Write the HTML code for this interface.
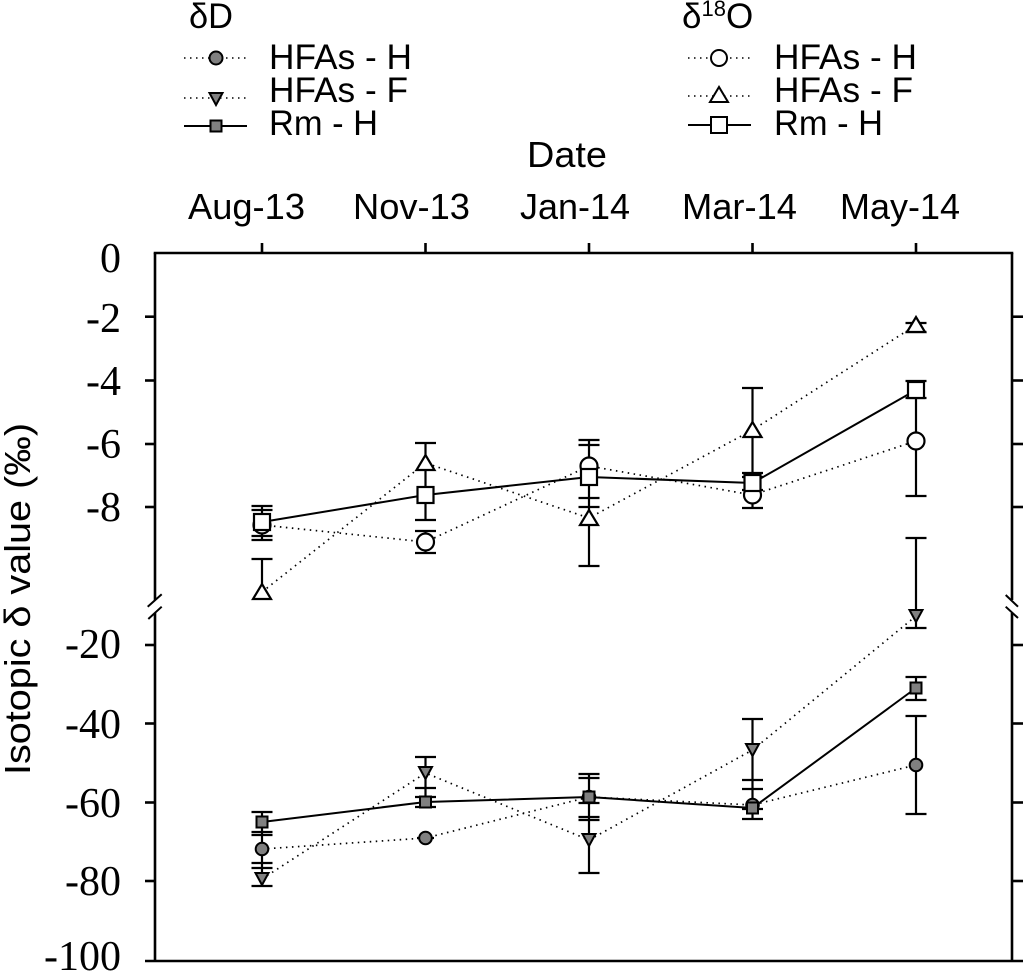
<!DOCTYPE html>
<html>
<head>
<meta charset="utf-8">
<style>
  html, body { margin: 0; padding: 0; background: #fff; }
  svg { display: block; }
  .sans { font-family: "Liberation Sans", "DejaVu Sans", sans-serif; }
  .serif { font-family: "Liberation Serif", "DejaVu Serif", serif; }
</style>
</head>
<body>
<svg xmlns="http://www.w3.org/2000/svg" width="1023" height="975" viewBox="0 0 1023 975">
  <rect x="0" y="0" width="1023" height="975" fill="#fff"/>

  <!-- Legend -->
  <g class="sans" font-size="35" fill="#000">
    <text x="189" y="28" textLength="44" lengthAdjust="spacingAndGlyphs">δD</text>
    <text x="269" y="69" textLength="143" lengthAdjust="spacingAndGlyphs">HFAs - H</text>
    <text x="269" y="102" textLength="139" lengthAdjust="spacingAndGlyphs">HFAs - F</text>
    <text x="269" y="135" textLength="109" lengthAdjust="spacingAndGlyphs">Rm - H</text>

    <text x="682" y="28">δ<tspan font-size="22" dy="-12">18</tspan><tspan dy="12">O</tspan></text>
    <text x="774" y="69" textLength="143" lengthAdjust="spacingAndGlyphs">HFAs - H</text>
    <text x="774" y="102" textLength="139" lengthAdjust="spacingAndGlyphs">HFAs - F</text>
    <text x="774" y="135" textLength="109" lengthAdjust="spacingAndGlyphs">Rm - H</text>
  </g>
  <g stroke="#000" fill="none">
    <line x1="184" y1="58" x2="247" y2="58" stroke-width="1.6" stroke-dasharray="1.5 4.5"/>
    <line x1="184" y1="98" x2="247" y2="98" stroke-width="1.6" stroke-dasharray="1.5 4.5"/>
    <line x1="184" y1="126" x2="247" y2="126" stroke-width="2"/>
    <line x1="688" y1="58" x2="751" y2="58" stroke-width="1.6" stroke-dasharray="1.5 4.5"/>
    <line x1="688" y1="96" x2="751" y2="96" stroke-width="1.6" stroke-dasharray="1.5 4.5"/>
    <line x1="688" y1="125" x2="751" y2="125" stroke-width="2"/>
  </g>
  <g stroke="#000" stroke-width="2">
    <circle cx="216" cy="58" r="6.5" fill="#808080"/>
    <polygon points="209.5,93 222.5,93 216,105" fill="#808080"/>
    <rect x="210.5" y="120.5" width="11" height="11" fill="#808080"/>
    <circle cx="719" cy="58" r="8" fill="#fff"/>
    <polygon points="710,102 728,102 719,87" fill="#fff"/>
    <rect x="711" y="117" width="16" height="16" fill="#fff"/>
  </g>

  <!-- Top axis title and labels -->
  <g class="sans" font-size="36" fill="#000">
    <text x="527" y="167" textLength="80" lengthAdjust="spacingAndGlyphs">Date</text>
    <text x="188" y="219" textLength="117" lengthAdjust="spacingAndGlyphs">Aug-13</text>
    <text x="353" y="219" textLength="117" lengthAdjust="spacingAndGlyphs">Nov-13</text>
    <text x="520" y="219" textLength="110" lengthAdjust="spacingAndGlyphs">Jan-14</text>
    <text x="682" y="219" textLength="115" lengthAdjust="spacingAndGlyphs">Mar-14</text>
    <text x="840" y="219" textLength="120" lengthAdjust="spacingAndGlyphs">May-14</text>
  </g>

  <!-- Y axis title -->
  <text class="sans" font-size="36" fill="#000" text-anchor="middle" transform="translate(30,599) rotate(-90)" textLength="352" lengthAdjust="spacingAndGlyphs">Isotopic δ value (‰)</text>

  <!-- Y tick labels -->
  <g class="serif" font-size="42" fill="#000" text-anchor="end">
    <text x="121" y="272">0</text>
    <text x="121" y="332">-2</text>
    <text x="121" y="395">-4</text>
    <text x="121" y="458">-6</text>
    <text x="121" y="521">-8</text>
    <text x="121" y="658">-20</text>
    <text x="121" y="738">-40</text>
    <text x="121" y="817">-60</text>
    <text x="121" y="895">-80</text>
    <text x="121" y="970">-100</text>
  </g>

  <!-- Frame -->
  <g stroke="#000" stroke-width="2.6" fill="none">
    <line x1="153.7" y1="253" x2="1013.3" y2="253"/>
    <line x1="145" y1="961" x2="1023" y2="961"/>
    <line x1="155" y1="253" x2="155" y2="600"/>
    <line x1="155" y1="613" x2="155" y2="961"/>
    <line x1="1012" y1="253" x2="1012" y2="600"/>
    <line x1="1012" y1="613" x2="1012" y2="961"/>
    <!-- break marks -->
    <line x1="147.7" y1="606.7" x2="161.7" y2="594.3" stroke-width="2"/>
    <line x1="148.3" y1="619" x2="161.7" y2="606.7" stroke-width="2"/>
    <line x1="1005.7" y1="595" x2="1018" y2="606.7" stroke-width="2"/>
    <line x1="1005.7" y1="606.7" x2="1018" y2="618" stroke-width="2"/>
    <!-- top ticks -->
    <line x1="262" y1="243" x2="262" y2="253"/>
    <line x1="425.5" y1="243" x2="425.5" y2="253"/>
    <line x1="589" y1="243" x2="589" y2="253"/>
    <line x1="752.5" y1="243" x2="752.5" y2="253"/>
    <line x1="916" y1="243" x2="916" y2="253"/>
    <!-- left ticks -->
    <line x1="145" y1="316.7" x2="155" y2="316.7"/>
    <line x1="145" y1="380.5" x2="155" y2="380.5"/>
    <line x1="145" y1="444" x2="155" y2="444"/>
    <line x1="145" y1="507" x2="155" y2="507"/>
    <line x1="145" y1="645" x2="155" y2="645"/>
    <line x1="145" y1="723.5" x2="155" y2="723.5"/>
    <line x1="145" y1="802.5" x2="155" y2="802.5"/>
    <line x1="145" y1="881" x2="155" y2="881"/>
    <!-- right ticks -->
    <line x1="1012" y1="316.7" x2="1023" y2="316.7"/>
    <line x1="1012" y1="380.5" x2="1023" y2="380.5"/>
    <line x1="1012" y1="444" x2="1023" y2="444"/>
    <line x1="1012" y1="507" x2="1023" y2="507"/>
    <line x1="1012" y1="645" x2="1023" y2="645"/>
    <line x1="1012" y1="723.5" x2="1023" y2="723.5"/>
    <line x1="1012" y1="802.5" x2="1023" y2="802.5"/>
    <line x1="1012" y1="881" x2="1023" y2="881"/>
  </g>

  <!-- Error bars -->
  <g stroke="#000" stroke-width="2.2" fill="none">
    <!-- Upper: Aug -->
    <line x1="262" y1="506" x2="262" y2="540"/>
    <line x1="251.5" y1="506" x2="272.5" y2="506"/>
    <line x1="251.5" y1="510" x2="272.5" y2="510"/>
    <line x1="251.5" y1="536" x2="272.5" y2="536"/>
    <line x1="251.5" y1="540" x2="272.5" y2="540"/>
    <line x1="262" y1="559" x2="262" y2="592"/>
    <line x1="251.5" y1="559" x2="272.5" y2="559"/>
    <!-- Upper: Nov -->
    <line x1="425.5" y1="443" x2="425.5" y2="520"/>
    <line x1="415" y1="443" x2="436" y2="443"/>
    <line x1="415" y1="520" x2="436" y2="520"/>
    <line x1="425.5" y1="531" x2="425.5" y2="553"/>
    <line x1="415" y1="531" x2="436" y2="531"/>
    <line x1="415" y1="553" x2="436" y2="553"/>
    <!-- Upper: Jan -->
    <line x1="589" y1="440" x2="589" y2="566"/>
    <line x1="578.5" y1="440" x2="599.5" y2="440"/>
    <line x1="578.5" y1="445" x2="599.5" y2="445"/>
    <line x1="578.5" y1="498" x2="599.5" y2="498"/>
    <line x1="578.5" y1="507" x2="599.5" y2="507"/>
    <line x1="578.5" y1="566" x2="599.5" y2="566"/>
    <!-- Upper: Mar -->
    <line x1="752.5" y1="388" x2="752.5" y2="508"/>
    <line x1="742" y1="388" x2="763" y2="388"/>
    <line x1="742" y1="473" x2="763" y2="473"/>
    <line x1="742" y1="477" x2="763" y2="477"/>
    <line x1="742" y1="490" x2="763" y2="490"/>
    <line x1="742" y1="508" x2="763" y2="508"/>
    <!-- Upper: May -->
    <line x1="916" y1="323" x2="916" y2="332"/>
    <line x1="905.5" y1="323" x2="926.5" y2="323"/>
    <line x1="905.5" y1="332" x2="926.5" y2="332"/>
    <line x1="916" y1="381" x2="916" y2="496"/>
    <line x1="905.5" y1="381" x2="926.5" y2="381"/>
    <line x1="905.5" y1="398" x2="926.5" y2="398"/>
    <line x1="905.5" y1="496" x2="926.5" y2="496"/>

    <!-- Lower: Aug -->
    <line x1="262" y1="812" x2="262" y2="886"/>
    <line x1="251.5" y1="812" x2="272.5" y2="812"/>
    <line x1="251.5" y1="832" x2="272.5" y2="832"/>
    <line x1="251.5" y1="835" x2="272.5" y2="835"/>
    <line x1="251.5" y1="863" x2="272.5" y2="863"/>
    <line x1="251.5" y1="868" x2="272.5" y2="868"/>
    <line x1="251.5" y1="886" x2="272.5" y2="886"/>
    <!-- Lower: Nov -->
    <line x1="425.5" y1="757" x2="425.5" y2="807"/>
    <line x1="415" y1="757" x2="436" y2="757"/>
    <line x1="415" y1="788" x2="436" y2="788"/>
    <line x1="415" y1="797" x2="436" y2="797"/>
    <line x1="415" y1="807" x2="436" y2="807"/>
    <line x1="417" y1="838" x2="434" y2="838"/>
    <!-- Lower: Jan -->
    <line x1="589" y1="774" x2="589" y2="873"/>
    <line x1="578.5" y1="774" x2="599.5" y2="774"/>
    <line x1="578.5" y1="778" x2="599.5" y2="778"/>
    <line x1="578.5" y1="803" x2="599.5" y2="803"/>
    <line x1="578.5" y1="817" x2="599.5" y2="817"/>
    <line x1="578.5" y1="820" x2="599.5" y2="820"/>
    <line x1="578.5" y1="873" x2="599.5" y2="873"/>
    <!-- Lower: Mar -->
    <line x1="752.5" y1="719" x2="752.5" y2="819"/>
    <line x1="742" y1="719" x2="763" y2="719"/>
    <line x1="742" y1="780" x2="763" y2="780"/>
    <line x1="742" y1="789" x2="763" y2="789"/>
    <line x1="742" y1="809" x2="763" y2="809"/>
    <line x1="742" y1="819" x2="763" y2="819"/>
    <!-- Lower: May -->
    <line x1="916" y1="538" x2="916" y2="628"/>
    <line x1="905.5" y1="538" x2="926.5" y2="538"/>
    <line x1="905.5" y1="628" x2="926.5" y2="628"/>
    <line x1="916" y1="677" x2="916" y2="700"/>
    <line x1="905.5" y1="677" x2="926.5" y2="677"/>
    <line x1="905.5" y1="700" x2="926.5" y2="700"/>
    <line x1="916" y1="716" x2="916" y2="814"/>
    <line x1="905.5" y1="716" x2="926.5" y2="716"/>
    <line x1="905.5" y1="814" x2="926.5" y2="814"/>
  </g>

  <!-- Connecting lines -->
  <g stroke="#000" fill="none">
    <!-- upper -->
    <polyline points="262,525 425.5,542 589,466 752.5,495 916,441" stroke-width="1.7" stroke-dasharray="1.5 4.5"/>
    <polyline points="262,592 425.5,463 589,518 752.5,430 916,325" stroke-width="1.7" stroke-dasharray="1.5 4.5"/>
    <polyline points="262,522 425.5,495 589,477 752.5,483 916,390" stroke-width="2"/>
    <!-- lower -->
    <polyline points="262,849 425.5,838 589,797 752.5,805 916,765" stroke-width="1.7" stroke-dasharray="1.5 4.5"/>
    <polyline points="262,879 425.5,773 589,840 752.5,750 916,616" stroke-width="1.7" stroke-dasharray="1.5 4.5"/>
    <polyline points="262,822 425.5,802 589,797 752.5,808 916,688" stroke-width="2"/>
  </g>

  <!-- Markers upper (open) -->
  <g stroke="#000" stroke-width="2.2" fill="#fff">
    <circle cx="262" cy="525" r="8.5"/>
    <circle cx="425.5" cy="542" r="8.5"/>
    <circle cx="589" cy="466" r="8.5"/>
    <circle cx="752.5" cy="495" r="8.5"/>
    <circle cx="916" cy="441" r="8.5"/>
    <polygon points="253,599 271,599 262,584"/>
    <polygon points="416.5,470 434.5,470 425.5,455"/>
    <polygon points="580,525 598,525 589,510"/>
    <polygon points="743.5,437 761.5,437 752.5,422"/>
    <polygon points="907,332 925,332 916,317"/>
    <rect x="254" y="514" width="16" height="16"/>
    <rect x="417.5" y="487" width="16" height="16"/>
    <rect x="581" y="469" width="16" height="16"/>
    <rect x="744.5" y="475" width="16" height="16"/>
    <rect x="908" y="382" width="16" height="16"/>
  </g>

  <!-- Markers lower (gray filled) -->
  <g stroke="#000" stroke-width="2" fill="#808080">
    <circle cx="262" cy="849" r="6.3"/>
    <circle cx="425.5" cy="838" r="6.3"/>
    <circle cx="589" cy="797" r="6.3"/>
    <circle cx="752.5" cy="805" r="6.3"/>
    <circle cx="916" cy="765" r="6.3"/>
    <polygon points="255.5,873 268.5,873 262,885"/>
    <polygon points="419,767 432,767 425.5,779"/>
    <polygon points="582.5,834 595.5,834 589,846"/>
    <polygon points="746,744 759,744 752.5,756"/>
    <polygon points="909.5,610 922.5,610 916,622"/>
    <rect x="256.5" y="816.5" width="11" height="11"/>
    <rect x="420" y="796.5" width="11" height="11"/>
    <rect x="583.5" y="791.5" width="11" height="11"/>
    <rect x="747" y="802.5" width="11" height="11"/>
    <rect x="910.5" y="682.5" width="11" height="11"/>
  </g>
</svg>
</body>
</html>
